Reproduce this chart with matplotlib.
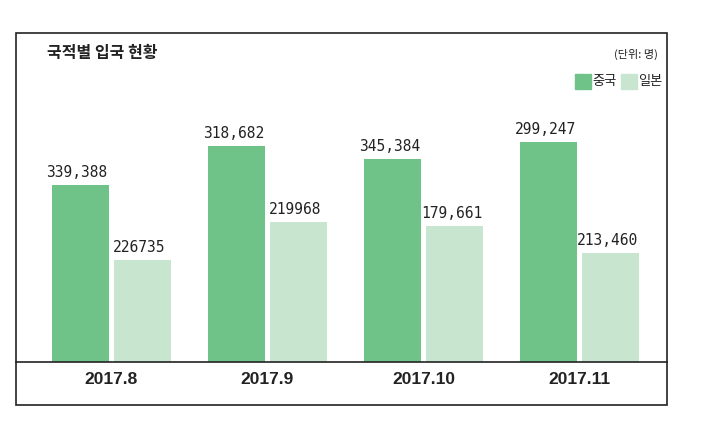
import matplotlib
matplotlib.use('Agg')
import matplotlib.pyplot as plt
from matplotlib.patches import Rectangle
import numpy as np

plt.rcParams['font.family'] = ['Noto Sans CJK KR', 'DejaVu Sans']

months = ["2017.8", "2017.9", "2017.10", "2017.11"]
series_names = ["중국", "일본"]
# printed numbers, as they appear on the chart
china_labels = ["339,388", "318,682", "345,384", "299,247"]
japan_labels = ["226735", "219968", "179,661", "213,460"]
# drawn bar heights (the original chart is not to scale)
china_heights = [177, 216, 203, 220]
japan_heights = [102, 140, 136, 109]

china_color = "#6fc389"
japan_color = "#c8e5d0"

W, H = 713, 432
fig = plt.figure(figsize=(W / 100, H / 100), dpi=100)

# axes area: x 16..667, y 44..362 (pixels)
ax = fig.add_axes([16 / W, 1 - 362 / H, (667 - 16) / W, (362 - 44) / H])
x = np.arange(len(months))
bw = 0.365
gap = 0.016
ax.bar(x - bw / 2 - gap, china_heights, bw, color=china_color, label=series_names[0])
ax.bar(x + bw / 2 + gap, japan_heights, bw, color=japan_color, label=series_names[1])

for i in range(len(months)):
    ax.text(x[i] - bw / 2 - gap - 0.02, china_heights[i] + 5, china_labels[i], ha='center', va='bottom',
            fontsize=10.5, family='DejaVu Sans Mono', color="#222222")
    ax.text(x[i] + bw / 2 + gap - 0.02, japan_heights[i] + 5, japan_labels[i], ha='center', va='bottom',
            fontsize=10.5, family='DejaVu Sans Mono', color="#222222")

ax.set_xlim(-0.61, 3.56)
ax.set_ylim(0, 318)
for s in ['top', 'left', 'right']:
    ax.spines[s].set_visible(False)
ax.spines['bottom'].set_linewidth(1.2)
ax.spines['bottom'].set_color("#222222")
ax.set_yticks([])
ax.set_xticks(x)
ax.set_xticklabels(months, fontsize=12.5, fontweight='bold', family=['Liberation Sans Narrow', 'Liberation Sans'],
                   color="#222222")
ax.tick_params(axis='x', length=0, pad=7)
ax.patch.set_alpha(0)

# outer frame
fig.patches.append(Rectangle((16 / W, 1 - 405 / H), (667 - 16) / W, (405 - 33) / H, transform=fig.transFigure,
                             fill=False, edgecolor="#222222", linewidth=1.2))

fig.text(47 / W, 1 - 53 / H, "국적별 입국 현황", fontsize=11.5, fontweight='bold', ha='left', va='center',
         color="#222222")
fig.text(658 / W, 1 - 54 / H, "(단위: 명)", fontsize=8, ha='right', va='center', color="#222222")

# legend
fig.patches.append(Rectangle((575 / W, 1 - 89 / H), 16 / W, 15 / H, transform=fig.transFigure,
                             color=china_color))
fig.text(592 / W, 1 - 81 / H, series_names[0], fontsize=9.5, ha='left', va='center', color="#222222")
fig.patches.append(Rectangle((621 / W, 1 - 89 / H), 16 / W, 15 / H, transform=fig.transFigure,
                             color=japan_color))
fig.text(638 / W, 1 - 81 / H, series_names[1], fontsize=9.5, ha='left', va='center', color="#222222")

plt.savefig("out.png", dpi=100)
